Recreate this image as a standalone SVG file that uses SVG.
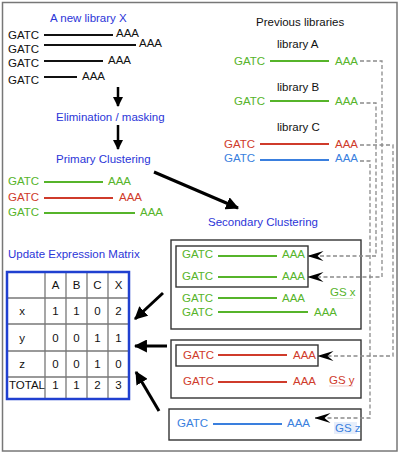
<svg xmlns="http://www.w3.org/2000/svg" width="400" height="454" viewBox="0 0 400 454">
<style>
text{font-family:"Liberation Sans",Arial,sans-serif;font-size:11.5px}
.k{fill:#111}
.g{fill:#56b42a}.r{fill:#cf3b2b}.b{fill:#3a7fde}.h{fill:#2b35d8}
.lk{stroke:#111;stroke-width:2}.lg{stroke:#56b42a;stroke-width:2}.lr{stroke:#cf3b2b;stroke-width:2}.lb{stroke:#3a7fde;stroke-width:2}
.box{fill:none;stroke:#333;stroke-width:1.4}
.dash{fill:none;stroke:#8a8a8a;stroke-width:1.3;stroke-dasharray:4 2.5;marker-end:url(#barb)}
.thick{stroke:#000;stroke-width:3;marker-end:url(#tri)}
.down{stroke:#000;stroke-width:2.5;marker-end:url(#tri2)}
.grid{stroke:#777;stroke-width:1.3}
.c{text-anchor:middle}
</style>
<defs>
<marker id="barb" viewBox="0 0 16 10" refX="15.5" refY="5" markerWidth="16" markerHeight="10" markerUnits="userSpaceOnUse" orient="auto"><path d="M0,0 L16,5 L0,10 L6,5 Z" fill="#000"/></marker>
<marker id="tri" viewBox="0 0 12 12" refX="11" refY="6" markerWidth="13" markerHeight="13" markerUnits="userSpaceOnUse" orient="auto"><path d="M0,0 L12,6 L0,12 Z" fill="#000"/></marker>
<marker id="tri2" viewBox="0 0 10 10" refX="9" refY="5" markerWidth="10" markerHeight="10" markerUnits="userSpaceOnUse" orient="auto"><path d="M0,0 L10,5 L0,10 Z" fill="#000"/></marker>
</defs>
<rect x="2.5" y="2.5" width="394.5" height="448.5" fill="#fff" stroke="#777" stroke-width="1.5"/>

<g id="new-library">
<text x="50" y="22" class="h">A new library X</text>
<text x="8" y="39" class="k">GATC</text><line x1="44" y1="35" x2="113" y2="35" class="lk"/><text x="116" y="37" class="k">AAA</text>
<text x="8" y="53" class="k">GATC</text><line x1="44" y1="45" x2="136" y2="45" class="lk"/><text x="139" y="47" class="k">AAA</text>
<text x="8" y="67" class="k">GATC</text><line x1="44" y1="61" x2="103" y2="61" class="lk"/><text x="108" y="64" class="k">AAA</text>
<text x="8" y="84" class="k">GATC</text><line x1="44" y1="77" x2="77" y2="77" class="lk"/><text x="82" y="80" class="k">AAA</text>
</g>

<g id="elimination"><text x="56" y="121" class="h">Elimination / masking</text></g>

<g id="primary">
<text x="56" y="163" class="h">Primary Clustering</text>
<text x="8" y="185" class="g">GATC</text><line x1="44" y1="182" x2="103" y2="182" class="lg"/><text x="108" y="185" class="g">AAA</text>
<text x="8" y="201" class="r">GATC</text><line x1="44" y1="198" x2="113" y2="198" class="lr"/><text x="119" y="201" class="r">AAA</text>
<text x="8" y="216" class="g">GATC</text><line x1="44" y1="213" x2="135" y2="213" class="lg"/><text x="140" y="216" class="g">AAA</text>
</g>

<g id="previous">
<text x="256" y="26" class="k">Previous libraries</text>
<text x="277" y="48" class="k">library A</text>
<text x="234" y="65" class="g">GATC</text><line x1="270" y1="61" x2="329" y2="61" class="lg"/><text x="335" y="65" class="g">AAA</text>
<text x="277" y="91" class="k">library B</text>
<text x="234" y="105" class="g">GATC</text><line x1="270" y1="101" x2="329" y2="101" class="lg"/><text x="335" y="105" class="g">AAA</text>
<text x="277" y="131" class="k">library C</text>
<text x="224" y="148" class="r">GATC</text><line x1="260" y1="144" x2="329" y2="144" class="lr"/><text x="335" y="148" class="r">AAA</text>
<text x="224" y="162" class="b">GATC</text><line x1="260" y1="160" x2="329" y2="160" class="lb"/><text x="335" y="162" class="b">AAA</text>
</g>

<g id="secondary-label"><text x="208" y="226" class="h">Secondary Clustering</text></g>

<g id="gs-x">
<rect x="171" y="240" width="190" height="89" class="box"/>
<rect x="176" y="246" width="132" height="41" class="box"/>
<text x="182" y="258" class="g">GATC</text><line x1="218" y1="256" x2="277" y2="256" class="lg"/><text x="282" y="258" class="g">AAA</text>
<text x="182" y="280" class="g">GATC</text><line x1="218" y1="277" x2="277" y2="277" class="lg"/><text x="282" y="280" class="g">AAA</text>
<text x="182" y="302" class="g">GATC</text><line x1="218" y1="298" x2="277" y2="298" class="lg"/><text x="282" y="302" class="g">AAA</text>
<text x="182" y="316" class="g">GATC</text><line x1="218" y1="312" x2="308" y2="312" class="lg"/><text x="314" y="316" class="g">AAA</text>
<text x="330" y="296" class="g">GS x</text><line x1="330" y1="298.5" x2="353" y2="298.5" stroke="#56b42a" stroke-opacity="0.35" stroke-width="0.8"/>
</g>

<g id="gs-y">
<rect x="171" y="340" width="190" height="58" class="box"/>
<rect x="176" y="345" width="142" height="21" class="box"/>
<text x="183" y="359" class="r">GATC</text><line x1="218" y1="355" x2="287" y2="355" class="lr"/><text x="293" y="359" class="r">AAA</text>
<text x="183" y="385" class="r">GATC</text><line x1="218" y1="382" x2="287" y2="382" class="lr"/><text x="293" y="385" class="r">AAA</text>
<text x="329" y="384" class="r">GS y</text><line x1="329" y1="386" x2="353" y2="386" stroke="#cf3b2b" stroke-opacity="0.35" stroke-width="0.8"/>
</g>

<g id="gs-z">
<rect x="169" y="409" width="192" height="31" class="box"/>
<rect x="334" y="422" width="23" height="12" fill="#e6eefb"/>
<text x="177" y="427" class="b">GATC</text><line x1="213" y1="424" x2="282" y2="424" class="lb"/><text x="287" y="427" class="b">AAA</text>
<text x="335" y="432" class="b">GS z</text>
</g>

<g id="matrix">
<text x="8" y="258" class="h">Update Expression Matrix</text>
<g class="grid">
<line x1="45" y1="272" x2="45" y2="399"/><line x1="66" y1="272" x2="66" y2="399"/><line x1="87" y1="272" x2="87" y2="399"/><line x1="108" y1="272" x2="108" y2="399"/>
<line x1="7" y1="298" x2="129" y2="298"/><line x1="7" y1="324" x2="129" y2="324"/><line x1="7" y1="351" x2="129" y2="351"/><line x1="7" y1="377" x2="129" y2="377"/>
</g>
<rect x="7" y="272" width="122" height="127" fill="none" stroke="#2040d0" stroke-width="2.5"/>
<g class="k">
<text x="55.5" y="289" class="c">A</text><text x="76.5" y="289" class="c">B</text><text x="97.5" y="289" class="c">C</text><text x="118.5" y="289" class="c">X</text>
<text x="22" y="315" class="c">x</text><text x="55.5" y="315" class="c">1</text><text x="76.5" y="315" class="c">1</text><text x="97.5" y="315" class="c">0</text><text x="118.5" y="315" class="c">2</text>
<text x="22" y="342" class="c">y</text><text x="55.5" y="342" class="c">0</text><text x="76.5" y="342" class="c">0</text><text x="97.5" y="342" class="c">1</text><text x="118.5" y="342" class="c">1</text>
<text x="22" y="368" class="c">z</text><text x="55.5" y="368" class="c">0</text><text x="76.5" y="368" class="c">0</text><text x="97.5" y="368" class="c">1</text><text x="118.5" y="368" class="c">0</text>
<text x="9" y="389">TOTAL</text><text x="55.5" y="389" class="c">1</text><text x="76.5" y="389" class="c">1</text><text x="97.5" y="389" class="c">2</text><text x="118.5" y="389" class="c">3</text>
</g>
</g>

<g id="connectors">
<line x1="118" y1="87" x2="118" y2="106" class="down"/>
<line x1="118" y1="125" x2="118" y2="149" class="down"/>
<line x1="154" y1="172" x2="238" y2="208" class="thick"/>
<line x1="163" y1="293" x2="135" y2="319" class="thick"/>
<line x1="167" y1="346" x2="135" y2="346" class="thick"/>
<line x1="159" y1="411" x2="136" y2="372" class="thick"/>
<polyline points="360,61 382,61 382,277 308,277" class="dash"/>
<polyline points="360,103 376,103 376,256 308,256" class="dash"/>
<polyline points="360,145 393,145 393,356 318,356" class="dash"/>
<polyline points="360,161 370,161 370,418 315,418" class="dash"/>
</g>
</svg>
